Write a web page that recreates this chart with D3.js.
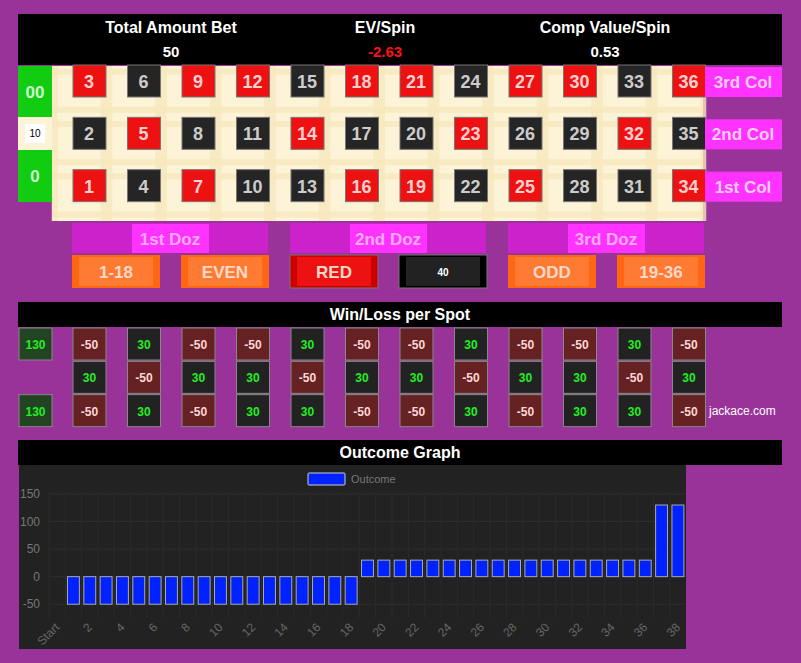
<!DOCTYPE html>
<html><head><meta charset="utf-8">
<script src="https://cdn.jsdelivr.net/npm/d3@7"></script>
<style>
body{margin:0;background:#993399;font-family:"Liberation Sans",Arial,sans-serif;}
svg{display:block;}
</style></head><body>
<svg id="chart" width="801" height="663"></svg>
<script>
// board data
const REDS = [1,3,5,7,9,12,14,16,18,19,21,23,25,27,30,32,34,36];
const ROWS = [3, 2, 1]; // top row holds 3,6,...,36
const COL_LABELS = ['3rd Col', '2nd Col', '1st Col'];
const DOZ_LABELS = ['1st Doz', '2nd Doz', '3rd Doz'];
const OUTSIDE = ['1-18', 'EVEN', 'RED', '', 'ODD', '19-36'];
const HEADERS = ['Total Amount Bet', 'EV/Spin', 'Comp Value/Spin'];
const HEADER_VALS = ['50', '-2.63', '0.53'];

// win/loss per spot, rows top to bottom
const WL_ROW1 = [-50,30,-50,-50,30,-50,-50,30,-50,-50,30,-50];
const WL_ROW2 = [30,-50,30,30,-50,30,30,-50,30,30,-50,30];
const WL_ROW3 = [-50,30,-50,30,30,-50,-50,30,-50,30,30,-50];
const WL_ZERO = [130, 130];

// outcome graph
const OUT_CATS = ['Start'].concat(d3.range(1, 39).map(String));
const OUT_VALS = [0,
  -50,-50,-50,-50,-50,-50,-50,-50,-50,-50,-50,-50,-50,-50,-50,-50,-50,-50,
  30,30,30,30,30,30,30,30,30,30,30,30,30,30,30,30,30,30,
  130,130];
const Y_TICKS = [-50, 0, 50, 100, 150];

const svg = d3.select('#chart');
svg.append('rect').attr('width', 801).attr('height', 663).attr('fill', '#993399');

// header band
svg.append('rect').attr('x', 18).attr('y', 14).attr('width', 764).attr('height', 51).attr('fill', '#000');
const hx = [171, 385, 605];
HEADERS.forEach((h, i) => {
  svg.append('text').attr('x', hx[i]).attr('y', 33).attr('text-anchor', 'middle')
    .attr('fill', '#fff').attr('font-weight', 'bold').attr('font-size', 16).text(h);
  svg.append('text').attr('x', hx[i]).attr('y', 57).attr('text-anchor', 'middle')
    .attr('fill', i === 1 ? '#ff1111' : '#fff').attr('font-weight', 'bold').attr('font-size', 15).text(HEADER_VALS[i]);
});

// board
const colX = d3.scaleBand().domain(d3.range(12)).range([52, 706]);
const rowY = d3.scaleBand().domain(d3.range(3)).range([66, 223]);
svg.append('rect').attr('x', 52).attr('y', 66).attr('width', 651).attr('height', 155).attr('fill', '#fdf3d6');
// faint grid stripes
colX.domain().forEach(c => {
  [0.05, 0.95].forEach(f => svg.append('rect').attr('x', colX(c) + colX.bandwidth() * f - 3).attr('y', 66)
    .attr('width', 6).attr('height', 155).attr('fill', '#f6e7bd').attr('opacity', 0.8));
});
rowY.domain().forEach(r => {
  [0.05, 0.78].forEach(f => svg.append('rect').attr('x', 52).attr('y', rowY(r) + rowY.bandwidth() * f)
    .attr('width', 651).attr('height', 6).attr('fill', '#f6e7bd').attr('opacity', 0.8));
});
ROWS.forEach((base, r) => {
  d3.range(12).forEach(c => {
    const n = c * 3 + base;
    const cx = colX(c) + 37, cy = rowY(r) + 15;
    const red = REDS.includes(n);
    svg.append('rect').attr('x', cx - 16).attr('y', cy - 16).attr('width', 33).attr('height', 32)
      .attr('fill', red ? '#ee1111' : '#252525').attr('stroke', '#777').attr('stroke-width', 1);
    svg.append('text').attr('x', cx).attr('y', cy + 7).attr('text-anchor', 'middle')
      .attr('fill', red ? '#ffd0d0' : '#ccc').attr('font-weight', 'bold').attr('font-size', 18).text(n);
  });
  svg.append('rect').attr('x', 705).attr('y', rowY(r) + 1).attr('width', 77).attr('height', 30).attr('fill', '#ff33ff');
  svg.append('text').attr('x', 743).attr('y', rowY(r) + 22).attr('text-anchor', 'middle')
    .attr('fill', '#ffccff').attr('font-weight', 'bold').attr('font-size', 17).text(COL_LABELS[r]);
});
// zeros
svg.append('rect').attr('x', 18).attr('y', 66).attr('width', 34).attr('height', 51).attr('fill', '#11cc11');
svg.append('text').attr('x', 35).attr('y', 98).attr('text-anchor', 'middle').attr('fill', '#ccffcc')
  .attr('font-weight', 'bold').attr('font-size', 17).text('00');
svg.append('rect').attr('x', 18).attr('y', 117).attr('width', 34).attr('height', 33).attr('fill', '#fdf3d6');
svg.append('rect').attr('x', 25).attr('y', 124).attr('width', 20).attr('height', 19).attr('fill', '#fff');
svg.append('text').attr('x', 35).attr('y', 137).attr('text-anchor', 'middle').attr('fill', '#000')
  .attr('font-size', 10).text('10');
svg.append('rect').attr('x', 18).attr('y', 150).attr('width', 34).attr('height', 52).attr('fill', '#11cc11');
svg.append('text').attr('x', 35).attr('y', 182).attr('text-anchor', 'middle').attr('fill', '#ccffcc')
  .attr('font-weight', 'bold').attr('font-size', 17).text('0');

// dozens
const dozX = d3.scaleBand().domain(d3.range(3)).range([72, 726]).paddingInner(0);
DOZ_LABELS.forEach((d, i) => {
  const x0 = dozX(i);
  svg.append('rect').attr('x', x0).attr('y', 223).attr('width', 196).attr('height', 30).attr('fill', '#cc22cc');
  svg.append('rect').attr('x', x0 + 60).attr('y', 224).attr('width', 77).attr('height', 29).attr('fill', '#ff33ff');
  svg.append('text').attr('x', x0 + 98).attr('y', 245).attr('text-anchor', 'middle')
    .attr('fill', '#ffaaff').attr('font-weight', 'bold').attr('font-size', 17).text(d);
});
// outside bets
const outX = d3.scaleBand().domain(d3.range(6)).range([72, 726]);
OUTSIDE.forEach((o, i) => {
  const x0 = outX(i);
  const isRed = o === 'RED', isBlack = i === 3;
  const fill = isRed ? '#cc0000' : isBlack ? '#000' : '#ff6611';
  const inner = isRed ? '#ee1111' : isBlack ? '#222' : '#ff7a33';
  svg.append('rect').attr('x', x0).attr('y', 255).attr('width', 88).attr('height', 33).attr('fill', fill)
    .attr('stroke', isRed || isBlack ? '#777' : 'none');
  svg.append('rect').attr('x', x0 + 7).attr('y', 257).attr('width', 74).attr('height', 29).attr('fill', inner);
  if (isBlack) {
    svg.append('text').attr('x', x0 + 44).attr('y', 276).attr('text-anchor', 'middle')
      .attr('fill', '#fff').attr('font-weight', 'bold').attr('font-size', 10).text('40');
  } else {
    svg.append('text').attr('x', x0 + 44).attr('y', 278).attr('text-anchor', 'middle')
      .attr('fill', '#ffd9c8').attr('font-weight', 'bold').attr('font-size', 17).text(o);
  }
});

// win/loss per spot
svg.append('rect').attr('x', 18).attr('y', 302).attr('width', 764).attr('height', 25).attr('fill', '#000');
svg.append('text').attr('x', 400).attr('y', 320).attr('text-anchor', 'middle').attr('fill', '#fff')
  .attr('font-weight', 'bold').attr('font-size', 16).text('Win/Loss per Spot');
const wlY = d3.scaleBand().domain(d3.range(3)).range([327, 427]);
function wlCell(x, y, v, zero) {
  const win = v > 0;
  svg.append('rect').attr('x', x).attr('y', y).attr('width', 33).attr('height', 32)
    .attr('fill', zero ? '#224422' : win ? '#222' : '#662222').attr('stroke', '#888').attr('stroke-width', 1);
  svg.append('text').attr('x', x + 16.5).attr('y', y + 21).attr('text-anchor', 'middle')
    .attr('fill', win ? '#22ee22' : '#ffd6d6').attr('font-weight', 'bold').attr('font-size', 12).text(v);
}
[WL_ROW1, WL_ROW2, WL_ROW3].forEach((row, r) => {
  row.forEach((v, c) => wlCell(colX(c) + 21, wlY(r) + 1, v, false));
});
wlCell(19, wlY(0) + 1, WL_ZERO[0], true);
wlCell(19, wlY(2) + 1, WL_ZERO[1], true);
svg.append('text').attr('x', 709).attr('y', 415).attr('fill', '#fff').attr('font-size', 12).text('jackace.com');

// outcome graph
svg.append('rect').attr('x', 18).attr('y', 440).attr('width', 764).attr('height', 25).attr('fill', '#000');
svg.append('text').attr('x', 400).attr('y', 458).attr('text-anchor', 'middle').attr('fill', '#fff')
  .attr('font-weight', 'bold').attr('font-size', 16).text('Outcome Graph');
svg.append('rect').attr('x', 19).attr('y', 465).attr('width', 667).attr('height', 184).attr('fill', '#222');

const x = d3.scaleBand().domain(OUT_CATS).range([49, 686]).paddingInner(0.27).paddingOuter(0.13);
const y = d3.scaleLinear().domain([-75, 150]).range([618, 494]);
const g = svg.append('g');
// grid
g.selectAll('.hg').data(Y_TICKS).enter().append('line')
  .attr('x1', 49).attr('x2', 686).attr('y1', d => y(d)).attr('y2', d => y(d)).attr('stroke', '#2e2e2e');
const step = x.step();
g.selectAll('.vg').data(OUT_CATS).enter().append('line')
  .attr('x1', d => x(d) - step * 0.135).attr('x2', d => x(d) - step * 0.135)
  .attr('y1', 494).attr('y2', 618).attr('stroke', '#2b2b2b');
// y axis labels
g.selectAll('.yt').data(Y_TICKS).enter().append('text')
  .attr('x', 40).attr('y', d => y(d) + 4).attr('text-anchor', 'end').attr('fill', '#777')
  .attr('font-size', 12).text(d => d);
// bars
g.selectAll('.bar').data(OUT_VALS).enter().append('rect')
  .attr('x', (d, i) => x(OUT_CATS[i]))
  .attr('y', d => y(Math.max(0, d)))
  .attr('width', x.bandwidth())
  .attr('height', d => Math.abs(y(d) - y(0)))
  .attr('fill', '#0022ff').attr('stroke', '#aaa').attr('stroke-width', d => d === 0 ? 0 : 1);
// x labels
g.selectAll('.xt').data(OUT_CATS.filter((d, i) => i % 2 === 0)).enter().append('text')
  .attr('transform', d => `translate(${x(d) + x.bandwidth() / 2 + 3},${628}) rotate(-45)`)
  .attr('text-anchor', 'end').attr('fill', '#666').attr('font-size', 12).text(d => d);
// legend
svg.append('rect').attr('x', 308).attr('y', 473).attr('width', 37).attr('height', 12)
  .attr('fill', '#0022ff').attr('stroke', '#ccc').attr('rx', 1);
svg.append('text').attr('x', 351).attr('y', 483).attr('fill', '#777').attr('font-size', 11).text('Outcome');
</script>
</body></html>
